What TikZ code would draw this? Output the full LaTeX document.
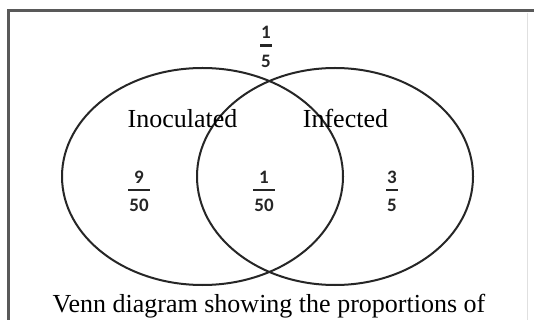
\documentclass[tikz,border=0pt]{standalone}
\usepackage{fontspec}
\setmainfont{Liberation Serif}
\newfontfamily\fracfont{Carlito}
\newcommand{\vfrac}[2]{\vbox{\offinterlineskip\halign{\hfil##\hfil\cr
  \kern1pt#1\kern1pt\cr
  \noalign{\kern5.5pt\hrule height 2.2pt\kern8.5pt}
  \kern1pt#2\kern1pt\cr}}}
\begin{document}
\begin{tikzpicture}[x=1pt,y=-1pt,
  venn/.style={draw=black!85,line width=2pt},
  lbl/.style={font=\fontsize{26}{30}\selectfont,inner sep=0pt,anchor=base,text=black},
  frac/.style={font=\fracfont\bfseries\fontsize{19}{21}\selectfont,inner sep=0pt,text=black!85}]
\useasboundingbox (0,0) rectangle (534,320);
\clip (0,0) rectangle (534,320);
\fill[white] (0,0) rectangle (534,320);
% frame
\draw[draw=black!65,line width=3pt] (8,340) -- (8,11) -- (560,11);
\draw[draw=black!12,line width=1pt] (527,13) -- (527,330);
% circles
\draw[venn] (202.5,176.5) ellipse [x radius=140.5, y radius=108.5];
\draw[venn] (335,176.5) ellipse [x radius=138, y radius=108.5];
% labels
\node[lbl] (inoc) at (182.5,128) {Inoculated};
\node[lbl] (inf) at (345.5,128) {Infected};
\node[lbl] (cap) at (269,312) {Venn diagram showing the proportions of};
% fractions
\node[frac] (fout) at (266,47) {\vfrac{1}{5}};
\node[frac] (finoc) at (139,191.5) {\vfrac{9}{50}};
\node[frac] (fboth) at (264,191.5) {\vfrac{1}{50}};
\node[frac] (finf) at (392,191.5) {\vfrac{3}{5}};
\end{tikzpicture}
\end{document}
